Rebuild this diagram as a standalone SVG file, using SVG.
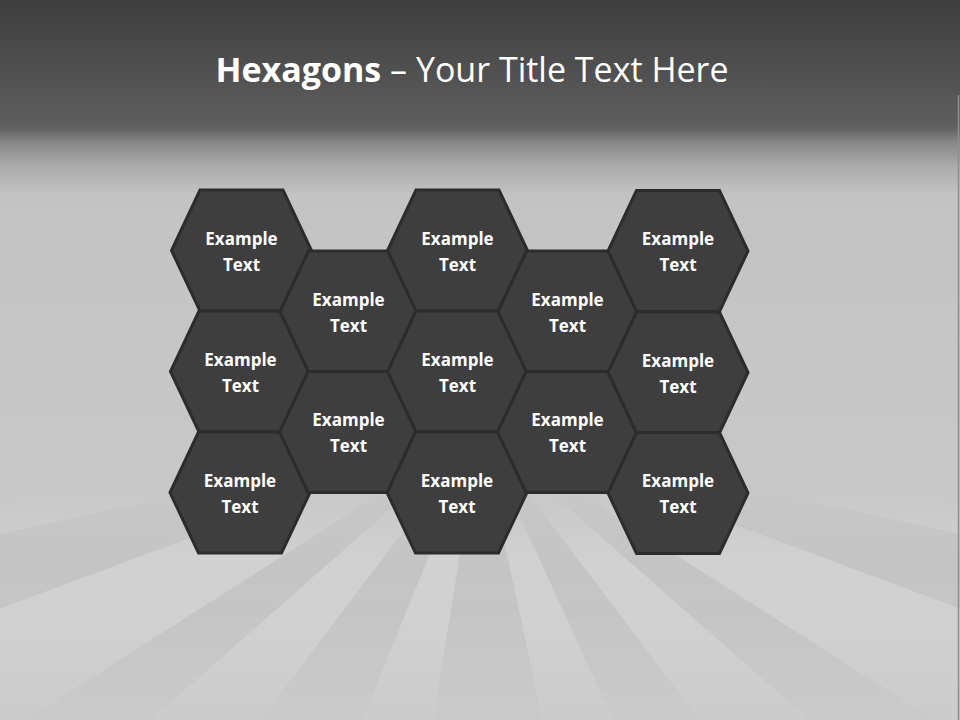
<svg xmlns="http://www.w3.org/2000/svg" xmlns:xlink="http://www.w3.org/1999/xlink" width="960" height="720" viewBox="0 0 960 720">
  <defs>
    <linearGradient id="bg" x1="0" y1="0" x2="0" y2="720" gradientUnits="userSpaceOnUse">
      <stop offset="0" stop-color="#3e3e3e"/>
      <stop offset="0.174" stop-color="#5e5e5e"/>
      <stop offset="0.178" stop-color="#626262"/>
      <stop offset="0.20" stop-color="#8a8a8a"/>
      <stop offset="0.23" stop-color="#aaaaaa"/>
      <stop offset="0.27" stop-color="#c3c3c3"/>
      <stop offset="0.5" stop-color="#c6c6c6"/>
      <stop offset="1" stop-color="#cbcbcb"/>
    </linearGradient>
    <linearGradient id="rayfade" x1="0" y1="490" x2="0" y2="720" gradientUnits="userSpaceOnUse">
      <stop offset="0" stop-color="#fff" stop-opacity="0"/>
      <stop offset="0.3" stop-color="#fff" stop-opacity="0.75"/>
      <stop offset="0.55" stop-color="#fff" stop-opacity="0.7"/>
      <stop offset="1" stop-color="#fff" stop-opacity="0.1"/>
    </linearGradient>
    <mask id="raymask" maskUnits="userSpaceOnUse" x="0" y="0" width="960" height="720">
      <rect x="0" y="480" width="960" height="240" fill="url(#rayfade)"/>
    </mask>
    <polygon id="hx" points="-41.5,-60.5 41.5,-60.5 70,0 41.5,60.5 -41.5,60.5 -70,0"/>
    <style>
      .hex { fill: #3e3e3e; stroke: #2c2c2c; stroke-width: 3; stroke-linejoin: miter; }
      .lbl { font-family: "Open Sans", "Liberation Sans", sans-serif; font-weight: 700; font-size: 17px; fill: #ffffff; text-anchor: middle; }
      .title { font-family: "Open Sans", "Liberation Sans", sans-serif; font-size: 34px; fill: #ffffff; }
    </style>
  </defs>

  <!-- background -->
  <rect x="0" y="0" width="960" height="720" fill="url(#bg)"/>
  <g mask="url(#raymask)">
    <g fill="#ffffff" opacity="0.2">
      <polygon points="480,430 -400,560 -400,620"/>
      <polygon points="480,430 -300,720 -100,800"/>
      <polygon points="480,430 60,800 200,800"/>
      <polygon points="480,430 330,800 420,800"/>
      <polygon points="480,430 560,800 650,800"/>
      <polygon points="480,430 760,800 900,800"/>
      <polygon points="480,430 1060,800 1260,720"/>
      <polygon points="480,430 1360,560 1360,620"/>
    </g>
    <g fill="#9a9a9a" opacity="0.12">
      <polygon points="480,430 -400,620 -300,720"/>
      <polygon points="480,430 -100,800 60,800"/>
      <polygon points="480,430 200,800 330,800"/>
      <polygon points="480,430 420,800 560,800"/>
      <polygon points="480,430 650,800 760,800"/>
      <polygon points="480,430 900,800 1060,800"/>
      <polygon points="480,430 1260,720 1360,620"/>
    </g>
  </g>
  <line x1="958.5" y1="95" x2="958.5" y2="720" stroke="#8e8e8e" stroke-width="1.5"/>

  <!-- title -->
  <text class="title" x="472" y="82" text-anchor="middle"><tspan font-weight="700">Hexagons</tspan> – Your Title Text Here</text>

  <!-- nodes -->
  <g id="hex-c1-r1"><use xlink:href="#hx" href="#hx" x="241.5" y="250.5" class="hex"/><text class="lbl" x="241.5" y="245">Example</text><text class="lbl" x="241.5" y="271">Text</text></g>
  <g id="hex-c1-r2"><use xlink:href="#hx" href="#hx" x="240.5" y="371.5" class="hex"/><text class="lbl" x="240.5" y="366">Example</text><text class="lbl" x="240.5" y="392">Text</text></g>
  <g id="hex-c1-r3"><use xlink:href="#hx" href="#hx" x="240" y="492.5" class="hex"/><text class="lbl" x="240" y="487">Example</text><text class="lbl" x="240" y="513">Text</text></g>

  <g id="hex-c2-r1"><use xlink:href="#hx" href="#hx" x="350" y="311.5" class="hex"/><text class="lbl" x="348.5" y="306">Example</text><text class="lbl" x="348.5" y="332">Text</text></g>
  <g id="hex-c2-r2"><use xlink:href="#hx" href="#hx" x="349.5" y="432" class="hex"/><text class="lbl" x="348.5" y="426">Example</text><text class="lbl" x="348.5" y="452">Text</text></g>

  <g id="hex-c3-r1"><use xlink:href="#hx" href="#hx" x="457.5" y="250.5" class="hex"/><text class="lbl" x="457.5" y="245">Example</text><text class="lbl" x="457.5" y="271">Text</text></g>
  <g id="hex-c3-r2"><use xlink:href="#hx" href="#hx" x="457.5" y="371.5" class="hex"/><text class="lbl" x="457.5" y="366">Example</text><text class="lbl" x="457.5" y="392">Text</text></g>
  <g id="hex-c3-r3"><use xlink:href="#hx" href="#hx" x="457" y="492.5" class="hex"/><text class="lbl" x="457" y="487">Example</text><text class="lbl" x="457" y="513">Text</text></g>

  <g id="hex-c4-r1"><use xlink:href="#hx" href="#hx" x="568" y="311.5" class="hex"/><text class="lbl" x="567.5" y="306">Example</text><text class="lbl" x="567.5" y="332">Text</text></g>
  <g id="hex-c4-r2"><use xlink:href="#hx" href="#hx" x="567.5" y="432" class="hex"/><text class="lbl" x="567.5" y="426">Example</text><text class="lbl" x="567.5" y="452">Text</text></g>

  <g id="hex-c5-r1"><use xlink:href="#hx" href="#hx" x="678" y="251" class="hex"/><text class="lbl" x="678" y="245">Example</text><text class="lbl" x="678" y="271">Text</text></g>
  <g id="hex-c5-r2"><use xlink:href="#hx" href="#hx" x="678" y="372.5" class="hex"/><text class="lbl" x="678" y="367">Example</text><text class="lbl" x="678" y="393">Text</text></g>
  <g id="hex-c5-r3"><use xlink:href="#hx" href="#hx" x="678" y="493" class="hex"/><text class="lbl" x="678" y="487">Example</text><text class="lbl" x="678" y="513">Text</text></g>

  <g id="connectors"/>
</svg>
